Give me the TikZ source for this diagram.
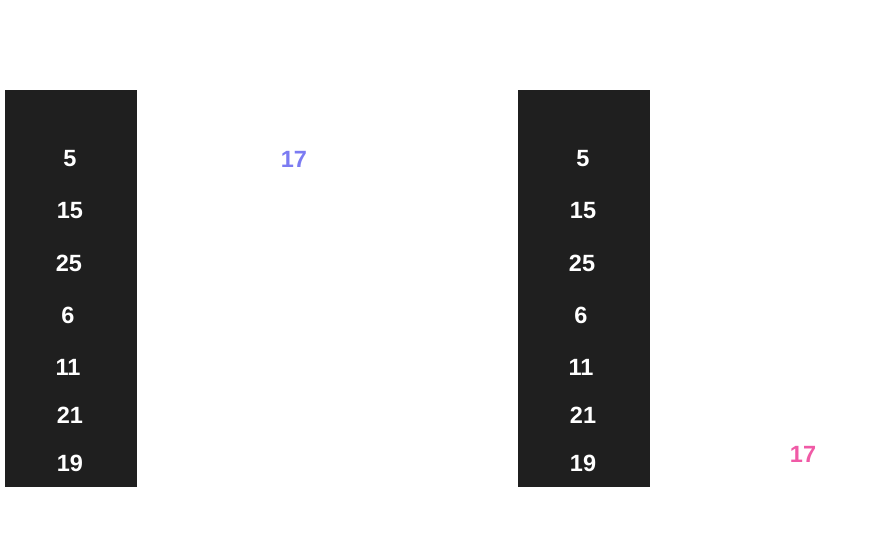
\documentclass[tikz,border=0pt]{standalone}
\usepackage{fontspec}
\setmainfont{Liberation Sans}
\usepackage{tikz}
\definecolor{colbg}{HTML}{1F1F1F}
\definecolor{violetnum}{HTML}{7B7BF2}
\definecolor{pinknum}{HTML}{F05AA6}
\tikzset{
	num/.style={text=white, font=\fontsize{23.5}{26}\selectfont\bfseries, inner sep=0pt},
	keynum/.style={font=\fontsize{23.5}{26}\selectfont\bfseries, inner sep=0pt}
}

\begin{document}
\begin{tikzpicture}[x=1pt, y=-1pt]
			%%%%% START %%%%%
			
			\useasboundingbox (0, 0) rectangle (876, 548);
			
			\draw[fill=colbg, draw=none] (5, 90) rectangle (137, 487);
			\node[num] (la) at (70, 159) {5};
			\node[num] (lb) at (70, 211) {15};
			\node[num] (lc) at (69, 263) {25};
			\node[num] (ld) at (68, 315) {6};
			\node[num] (le) at (68, 367) {11};
			\node[num] (lf) at (70, 415) {21};
			\node[num] (lg) at (70, 463) {19};
			
			\node[keynum, text=violetnum] (lkey) at (294, 159) {17};
			
			\draw[fill=colbg, draw=none] (518, 90) rectangle (650, 487);
			\node[num] (ra) at (583, 159) {5};
			\node[num] (rb) at (583, 211) {15};
			\node[num] (rc) at (582, 263) {25};
			\node[num] (rd) at (581, 315) {6};
			\node[num] (re) at (581, 367) {11};
			\node[num] (rf) at (583, 415) {21};
			\node[num] (rg) at (583, 463) {19};
			
			\node[keynum, text=pinknum] (rkey) at (803, 454) {17};
			
			%%%%% END %%%%%
		\end{tikzpicture}
\end{document}
